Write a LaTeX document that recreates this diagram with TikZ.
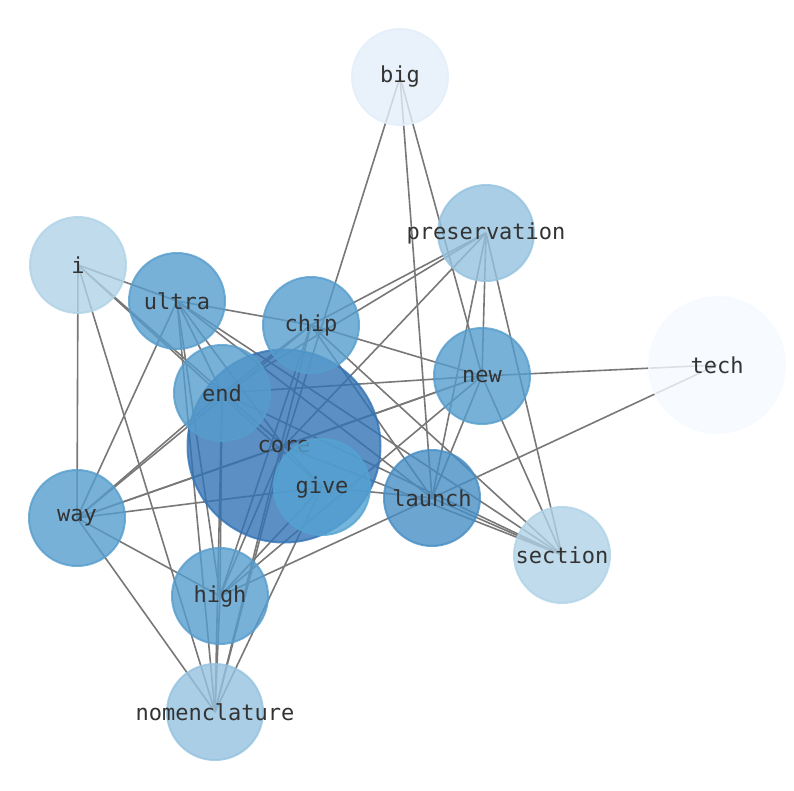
\documentclass[tikz,border=0pt]{standalone}
\usepackage{fontspec}
\usepackage{tikz}
\usetikzlibrary{backgrounds}
\newfontfamily\wordfont{DejaVu Sans Mono}

\definecolor{textgray}{RGB}{51,51,51}
\definecolor{linkgray}{RGB}{120,120,120}
\definecolor{bluecore}{RGB}{51,115,181}
\definecolor{bluelaunch}{RGB}{71,142,196}
\definecolor{bluemid}{RGB}{86,157,205}
\definecolor{bluegive}{RGB}{84,163,210}
\definecolor{bluelight}{RGB}{149,194,223}
\definecolor{bluepale}{RGB}{176,211,231}
\definecolor{bluebig}{RGB}{227,238,249}
\definecolor{bluetech}{RGB}{245,250,255}

\newcommand{\wordtext}[1]{\makebox[0pt]{#1}}

\begin{document}
\begin{tikzpicture}[x=1pt, y=-1pt]
			\tikzstyle{word} = [circle, minimum size=96pt, inner sep=0pt, line width=2pt, opacity=0.8, text opacity=1, text=textgray, font=\wordfont\fontsize{22}{26}\selectfont]
			\tikzstyle{link} = [draw=linkgray, line width=1.6pt]

			\useasboundingbox (0,0) rectangle (794,790);

			% words, core first so that end and give lie over it
			\node[word, minimum size=193pt, fill=bluecore, draw=bluecore] (core) at (284,446) {\wordtext{core}};
			\node[word, fill=bluebig, draw=bluebig] (big) at (400,77) {\wordtext{big}};
			\node[word, fill=bluelight, draw=bluelight] (preservation) at (486,233) {\wordtext{preservation}};
			\node[word, fill=bluepale, draw=bluepale] (i) at (78,265) {\wordtext{i}};
			\node[word, fill=bluemid, draw=bluemid] (ultra) at (177,301) {\wordtext{ultra}};
			\node[word, fill=bluemid, draw=bluemid] (chip) at (311,325) {\wordtext{chip}};
			\node[word, minimum size=136pt, fill=bluetech, draw=bluetech] (tech) at (717,365) {\wordtext{tech}};
			\node[word, fill=bluemid, draw=bluemid] (new) at (482,376) {\wordtext{new}};
			\node[word, fill=bluemid, draw=bluemid] (end) at (222,393) {\wordtext{end}};
			\node[word, fill=bluegive, draw=bluegive] (give) at (322,487) {\wordtext{give}};
			\node[word, fill=bluelaunch, draw=bluelaunch] (launch) at (432,498) {\wordtext{launch}};
			\node[word, fill=bluemid, draw=bluemid] (way) at (77,518) {\wordtext{way}};
			\node[word, fill=bluepale, draw=bluepale] (section) at (562,555) {\wordtext{section}};
			\node[word, fill=bluemid, draw=bluemid] (high) at (220,596) {\wordtext{high}};
			\node[word, fill=bluelight, draw=bluelight] (nomenclature) at (215,712) {\wordtext{nomenclature}};

			% links between the words
			\begin{pgfonlayer}{background}
			\path[link]
			(big.center) edge (core.center)
			(big.center) edge (launch.center)
			(big.center) edge (new.center)
			(preservation.center) edge (chip.center)
			(preservation.center) edge (end.center)
			(preservation.center) edge (core.center)
			(preservation.center) edge (launch.center)
			(preservation.center) edge (new.center)
			(preservation.center) edge (section.center)
			(tech.center) edge (new.center)
			(tech.center) edge (launch.center)
			(i.center) edge (way.center)
			(i.center) edge (ultra.center)
			(i.center) edge (nomenclature.center)
			(i.center) edge (core.center)
			(i.center) edge (give.center)
			(ultra.center) edge (chip.center)
			(ultra.center) edge (way.center)
			(ultra.center) edge (high.center)
			(ultra.center) edge (nomenclature.center)
			(ultra.center) edge (end.center)
			(ultra.center) edge (core.center)
			(ultra.center) edge (launch.center)
			(ultra.center) edge (section.center)
			(chip.center) edge (new.center)
			(chip.center) edge (launch.center)
			(chip.center) edge (section.center)
			(chip.center) edge (high.center)
			(chip.center) edge (nomenclature.center)
			(chip.center) edge (way.center)
			(chip.center) edge (end.center)
			(new.center) edge (end.center)
			(new.center) edge (core.center)
			(new.center) edge (launch.center)
			(new.center) edge (section.center)
			(new.center) edge (high.center)
			(new.center) edge (way.center)
			(end.center) edge (way.center)
			(end.center) edge (high.center)
			(end.center) edge (nomenclature.center)
			(end.center) edge (core.center)
			(end.center) edge (section.center)
			(core.center) edge (way.center)
			(core.center) edge (high.center)
			(core.center) edge (nomenclature.center)
			(core.center) edge (give.center)
			(core.center) edge (section.center)
			(give.center) edge (way.center)
			(give.center) edge (high.center)
			(give.center) edge (nomenclature.center)
			(give.center) edge (launch.center)
			(launch.center) edge (high.center)
			(launch.center) edge (section.center)
			(way.center) edge (high.center)
			(way.center) edge (nomenclature.center)
			(high.center) edge (nomenclature.center)
			;
			\end{pgfonlayer}

			\end{tikzpicture}
\end{document}
